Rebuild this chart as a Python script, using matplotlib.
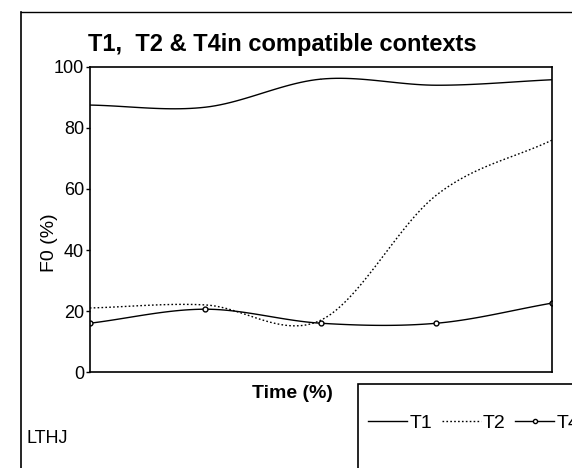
import matplotlib
matplotlib.use('Agg')
import matplotlib.pyplot as plt
from matplotlib.patches import Rectangle
import numpy as np

# --- data ---
time_pct = [0, 25, 50, 75, 100]
t1 = [87.5, 86.8, 96.0, 94.0, 95.8]
t2 = [21.0, 22.0, 17.0, 58.0, 76.0]
t4 = [16.0, 20.6, 16.0, 16.0, 22.6]
yticks = [0, 20, 40, 60, 80, 100]

plt.rcParams['font.family'] = ['Liberation Sans', 'DejaVu Sans']


def smooth(x, y, n=24):
    # Catmull-Rom curve through the points (like the spreadsheet's smoothed lines)
    x = np.asarray(x, float)
    y = np.asarray(y, float)
    px = np.concatenate([[2 * x[0] - x[1]], x, [2 * x[-1] - x[-2]]])
    py = np.concatenate([[2 * y[0] - y[1]], y, [2 * y[-1] - y[-2]]])
    xs, ys = [], []
    t = np.linspace(0, 1, n)
    for i in range(1, len(px) - 2):
        for p, out in ((px, xs), (py, ys)):
            p0, p1, p2, p3 = p[i - 1], p[i], p[i + 1], p[i + 2]
            out.extend(0.5 * (2 * p1 + (-p0 + p2) * t + (2 * p0 - 5 * p1 + 4 * p2 - p3) * t ** 2
                              + (-p0 + 3 * p1 - 3 * p2 + p3) * t ** 3))
    return np.array(xs), np.array(ys)


fig = plt.figure(figsize=(5.72, 4.68), dpi=100)
ax = fig.add_axes([0.157, 0.205, 0.808, 0.652])

x1, y1 = smooth(time_pct, t1)
x2, y2 = smooth(time_pct, t2)
x4, y4 = smooth(time_pct, t4)
ax.plot(x1, y1, color='black', lw=1.0, label='T1')
ax.plot(x2, y2, color='black', lw=1.0, linestyle=(0, (1.2, 1.6)), label='T2')
ax.plot(x4, y4, color='black', lw=1.0)
ax.plot(time_pct, t4, linestyle='none', marker='o', ms=3.5, mfc='white', mec='black', mew=1.0)
ax.plot([], [], color='black', lw=1.0, marker='o', ms=3, mfc='white', mec='black', label='T4')

ax.set_xlim(0, 100)
ax.set_ylim(0, 100)
ax.set_yticks(yticks)
ax.set_yticklabels([str(v) for v in yticks], fontsize=13)
ax.set_xticks([])
ax.tick_params(axis='y', length=3, width=1, pad=1)
for s in ax.spines.values():
    s.set_linewidth(1.2)

fig.text(50 / 572, 1 - 243 / 468, 'F0 (%)', fontsize=14, rotation=90, ha='center', va='center')
fig.text(252 / 572, 1 - 394 / 468, 'Time (%)', fontsize=14, fontweight='bold', ha='left', va='center')
fig.text(0.154, 1 - 45 / 468, 'T1,  T2 & T4in compatible contexts', fontsize=17, fontweight='bold',
         ha='left', va='center')

# outer frame of the scanned page (left and top edges only)
fig.add_artist(plt.Line2D([0.037, 0.037], [0.0, 0.975], color='black', lw=1.2))
fig.add_artist(plt.Line2D([0.037, 1.0], [0.975, 0.975], color='black', lw=1.0))
fig.text(0.047, 0.064, 'LTHJ', fontsize=13, ha='left', va='center')

# legend box runs off the page at right and bottom
box = Rectangle((358 / 572, -0.1), 0.5, (468 - 384) / 468 + 0.1, transform=fig.transFigure,
                facecolor='white', edgecolor='black', lw=1.2, zorder=4)
fig.add_artist(box)
leg = fig.legend(loc='center left', bbox_to_anchor=(368 / 572, 1 - 423 / 468), ncol=3, frameon=False,
                 fontsize=14, borderpad=0, handlelength=2.0, handletextpad=0.12,
                 columnspacing=0.5, borderaxespad=0)
leg.set_zorder(5)

fig.savefig('out.png', dpi=100)
